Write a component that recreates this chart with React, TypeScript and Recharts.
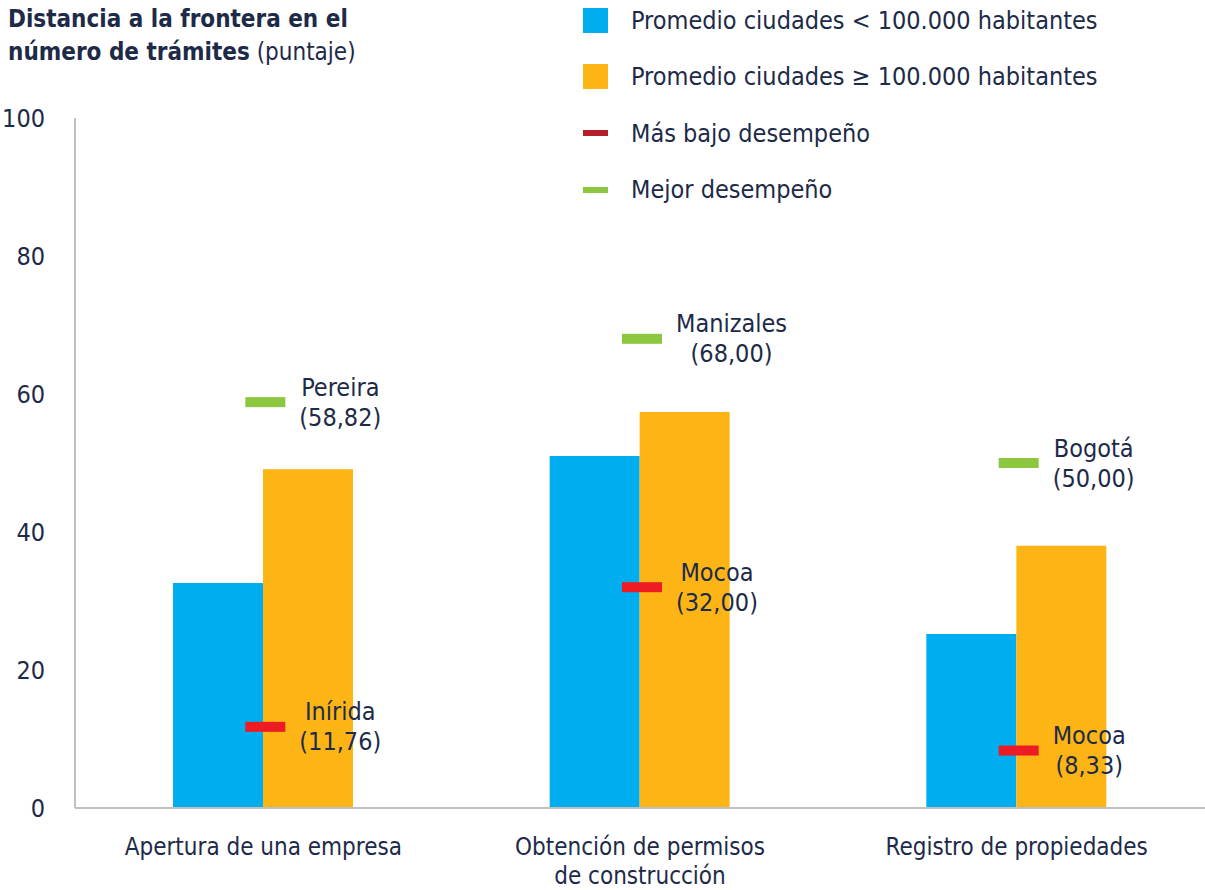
import React from "react";
import {
    ComposedChart,
    Bar,
    Scatter,
    XAxis,
    YAxis,
} from "recharts";

const categories = [
    "Apertura de una empresa",
    "Obtención de permisos\nde construcción",
    "Registro de propiedades",
];
const smallCities = [32.6, 51.0, 25.2];
const largeCities = [49.1, 57.4, 38.0];
const lowestValues = [11.76, 32.0, 8.33];
const lowestCities = ["Inírida", "Mocoa", "Mocoa"];
const bestValues = [58.82, 68.0, 50.0];
const bestCities = ["Pereira", "Manizales", "Bogotá"];
const yTicks = [0, 20, 40, 60, 80, 100];

const FONT = "'Liberation Sans Narrow', 'DejaVu Sans Condensed', 'Open Sans', sans-serif";
const TEXT = "#1d2a48";
const BLUE = "#00AEEF";
const ORANGE = "#FDB515";
const RED = "#ED1C24";
const GREEN = "#8DC63F";

const fmt = (v: number) => v.toFixed(2).replace(".", ",");

const data = categories.map((c, i) => ({
    name: c,
    small: smallCities[i],
    large: largeCities[i],
    low: lowestValues[i],
    lowCity: lowestCities[i],
    best: bestValues[i],
    bestCity: bestCities[i],
}));

let ctx: CanvasRenderingContext2D | null = null;
function textWidth(s: string, size: number) {
    if (!ctx) ctx = document.createElement("canvas").getContext("2d");
    if (!ctx) return s.length * size * 0.45;
    ctx.font = `${size}px ${FONT}`;
    return ctx.measureText(s).width;
}

// marker dash + two-line label to its right
function makeMarker(color: string, cityKey: string, valueKey: string) {
    return (props: any) => {
        const { cx, cy, payload } = props;
        if (cx == null || cy == null) return <g />;
        const city = payload[cityKey];
        const val = `(${fmt(payload[valueKey])})`;
        const size = 25;
        const w = Math.max(textWidth(city, size), textWidth(val, size));
        const tx = cx + 2 + 20 + 14 + w / 2;
        return (
            <g>
                <rect x={cx + 2 - 20} y={cy - 5} width={40} height={10} fill={color} />
                <text
                    x={tx}
                    y={cy - 15}
                    textAnchor="middle"
                    dominantBaseline="central"
                    fontSize={size}
                    fontFamily={FONT}
                    fill={TEXT}
                >
                    {city}
                </text>
                <text
                    x={tx}
                    y={cy + 15}
                    textAnchor="middle"
                    dominantBaseline="central"
                    fontSize={size}
                    fontFamily={FONT}
                    fill={TEXT}
                >
                    {val}
                </text>
            </g>
        );
    };
}

const CategoryTick = ({ x, y, payload }: any) => {
    const lines = String(payload.value).split("\n");
    return (
        <g>
            {lines.map((l, i) => (
                <text
                    key={i}
                    x={x}
                    y={y + 31 + i * 29}
                    textAnchor="middle"
                    dominantBaseline="central"
                    fontSize={24}
                    fontFamily={FONT}
                    fill={TEXT}
                >
                    {l}
                </text>
            ))}
        </g>
    );
};

const legendItems = [
    { label: "Promedio ciudades < 100.000 habitantes", color: BLUE, kind: "box" },
    { label: "Promedio ciudades ≥ 100.000 habitantes", color: ORANGE, kind: "box" },
    { label: "Más bajo desempeño", color: "#B51E2B", kind: "dash" },
    { label: "Mejor desempeño", color: GREEN, kind: "dash" },
];

const ChartLegend = () => (
    <div
        style={{
            position: "absolute",
            left: 583,
            top: -8,
            fontFamily: FONT,
            fontSize: 25,
            color: TEXT,
            zIndex: 2,
        }}
    >
        {legendItems.map((it) => (
            <div
                key={it.label}
                style={{ display: "flex", alignItems: "center", height: 56.5 }}
            >
                <div style={{ width: 25, display: "flex", alignItems: "center" }}>
                    <div
                        style={{
                            width: 25,
                            height: it.kind === "box" ? 25 : 6,
                            background: it.color,
                        }}
                    />
                </div>
                <span style={{ marginLeft: 23 }}>{it.label}</span>
            </div>
        ))}
    </div>
);

export default function App() {
    return (
        <div
            style={{
                position: "absolute",
                left: 0,
                top: 0,
                width: 1205,
                height: 890,
                background: "#fff",
            }}
        >
            <div
                style={{
                    position: "absolute",
                    left: 8,
                    top: 3,
                    fontFamily: FONT,
                    fontSize: 24,
                    lineHeight: "33px",
                    color: TEXT,
                    zIndex: 2,
                }}
            >
                <b>Distancia a la frontera en el</b>
                <br />
                <b>número de trámites</b> (puntaje)
            </div>
            <ChartLegend />
            <ComposedChart
                width={1205}
                height={890}
                data={data}
                margin={{ top: 118, right: 0, bottom: 0, left: 0 }}
                barGap={0}
                barSize={90}
            >
                <XAxis
                    dataKey="name"
                    tickLine={false}
                    axisLine={{ stroke: "#c0c0c0", strokeWidth: 2 }}
                    tick={<CategoryTick />}
                    interval={0}
                    height={82}
                />
                <YAxis
                    domain={[0, 100]}
                    ticks={yTicks}
                    width={75}
                    tickLine={false}
                    tickMargin={24}
                    axisLine={{ stroke: "#c0c0c0", strokeWidth: 2 }}
                    tick={{ fontSize: 25, fontFamily: FONT, fill: TEXT }}
                />
                <Bar dataKey="small" fill={BLUE} isAnimationActive={false} />
                <Bar dataKey="large" fill={ORANGE} isAnimationActive={false} />
                <Scatter
                    dataKey="low"
                    shape={makeMarker(RED, "lowCity", "low")}
                    isAnimationActive={false}
                />
                <Scatter
                    dataKey="best"
                    shape={makeMarker(GREEN, "bestCity", "best")}
                    isAnimationActive={false}
                />
            </ComposedChart>
        </div>
    );
}
